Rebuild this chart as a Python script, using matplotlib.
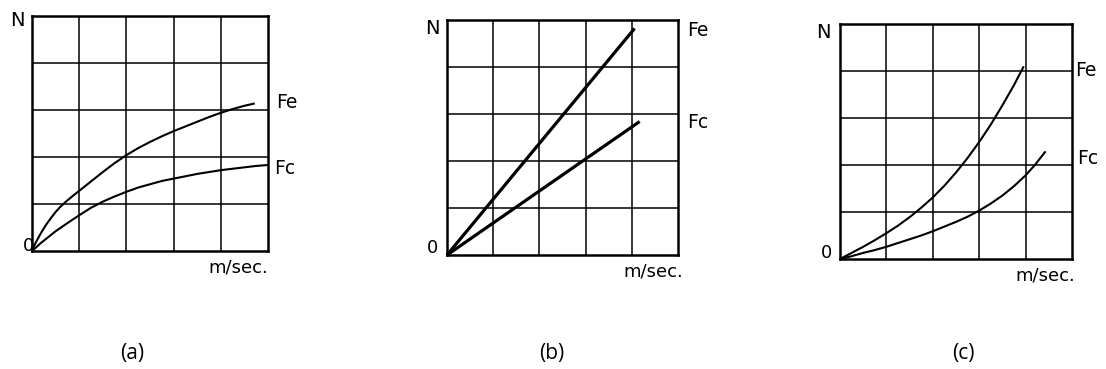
import numpy as np
import matplotlib.pyplot as plt

W, H = 1106, 369

# curve points (grid units, 5 x 5 cells)
a_fe_x = [0, 0.05, 0.1, 0.2, 0.3, 0.4, 0.5, 0.6, 0.73, 0.85, 1.0, 1.25, 1.5, 1.75,
          2.0, 2.25, 2.5, 2.75, 3.0, 3.25, 3.5, 3.75, 4.0, 4.25, 4.5, 4.72]
a_fe_y = [0, 0.12, 0.22, 0.40, 0.56, 0.70, 0.83, 0.94, 1.06, 1.16, 1.28, 1.48, 1.68, 1.87,
          2.04, 2.19, 2.32, 2.44, 2.55, 2.65, 2.75, 2.85, 2.94, 3.02, 3.09, 3.14]
a_fc_x = [0, 0.1, 0.2, 0.3, 0.4, 0.5, 0.6, 0.73, 0.85, 1.0, 1.25, 1.5, 1.75, 2.0,
          2.25, 2.5, 2.75, 3.0, 3.25, 3.5, 3.75, 4.0, 4.25, 4.5, 4.75, 5.0]
a_fc_y = [0, 0.09, 0.18, 0.26, 0.34, 0.42, 0.49, 0.58, 0.66, 0.76, 0.92, 1.05, 1.16, 1.26,
          1.35, 1.42, 1.49, 1.54, 1.59, 1.64, 1.68, 1.72, 1.75, 1.78, 1.81, 1.83]

b_fe_x = [0, 4.06]
b_fe_y = [0, 4.82]
b_fc_x = [0, 4.17]
b_fc_y = [0, 2.84]

c_fe_x = [0, 0.25, 0.5, 0.75, 1.0, 1.25, 1.5, 1.75, 2.0, 2.25, 2.5, 2.75, 3.0, 3.25,
          3.5, 3.75, 3.96]
c_fe_y = [0, 0.13, 0.26, 0.40, 0.55, 0.71, 0.89, 1.09, 1.31, 1.56, 1.84, 2.15, 2.49, 2.86,
          3.27, 3.70, 4.10]
c_fc_x = [0, 0.25, 0.5, 0.75, 1.0, 1.25, 1.5, 1.75, 2.0, 2.25, 2.5, 2.75, 3.0, 3.25,
          3.5, 3.75, 4.0, 4.2, 4.43]
c_fc_y = [0, 0.06, 0.13, 0.19, 0.26, 0.34, 0.42, 0.50, 0.59, 0.69, 0.79, 0.90, 1.03, 1.18,
          1.35, 1.55, 1.78, 2.00, 2.29]

captions = ['(a)', '(b)', '(c)']

# panel boxes in pixels: left, right, top, bottom
boxes = [(32, 268, 16, 251), (447, 678, 20, 255), (840, 1072, 24, 259)]
curve_lw = [1.5, 2.3, 1.5]
curves = [[(a_fe_x, a_fe_y), (a_fc_x, a_fc_y)],
          [(b_fe_x, b_fe_y), (b_fc_x, b_fc_y)],
          [(c_fe_x, c_fe_y), (c_fc_x, c_fc_y)]]

# label positions in pixels
labels = [
    {'N': (17, 21), '0': (29, 246), 'm/sec.': (268, 267), 'Fe': (276, 102), 'Fc': (274, 168), 'cap': (132, 354)},
    {'N': (432, 29), '0': (432, 248), 'm/sec.': (683, 272), 'Fe': (687, 31), 'Fc': (687, 122), 'cap': (552, 354)},
    {'N': (823, 32), '0': (827, 253), 'm/sec.': (1075, 275), 'Fe': (1075, 70), 'Fc': (1077, 158), 'cap': (963, 354)},
]


def px(x, y):
    return x / W, 1 - y / H


fig = plt.figure(figsize=(W / 100, H / 100), dpi=100)

for i, (l, r, t, b) in enumerate(boxes):
    ax = fig.add_axes([l / W, 1 - b / H, (r - l) / W, (b - t) / H])
    ax.set_xlim(0, 5)
    ax.set_ylim(0, 5)
    for k in range(1, 5):
        ax.axvline(k, color='black', lw=1.1)
        ax.axhline(k, color='black', lw=1.1)
    for s in ax.spines.values():
        s.set_linewidth(1.8)
    ax.set_xticks([])
    ax.set_yticks([])
    for x, y in curves[i]:
        ax.plot(x, y, color='black', lw=curve_lw[i], solid_capstyle='butt',
                solid_joinstyle='round', clip_on=False)

    lab = labels[i]
    fig.text(*px(*lab['N']), 'N', ha='center', va='center', fontsize=14)
    fig.text(*px(*lab['0']), '0', ha='center', va='center', fontsize=13)
    fig.text(*px(*lab['m/sec.']), 'm/sec.', ha='right', va='center', fontsize=13)
    fig.text(*px(*lab['Fe']), 'Fe', ha='left', va='center', fontsize=13.5)
    fig.text(*px(*lab['Fc']), 'Fc', ha='left', va='center', fontsize=13.5)
    fig.text(*px(*lab['cap']), captions[i], ha='center', va='center', fontsize=15,
             family='Open Sans')

fig.savefig('out.png', dpi=100)
